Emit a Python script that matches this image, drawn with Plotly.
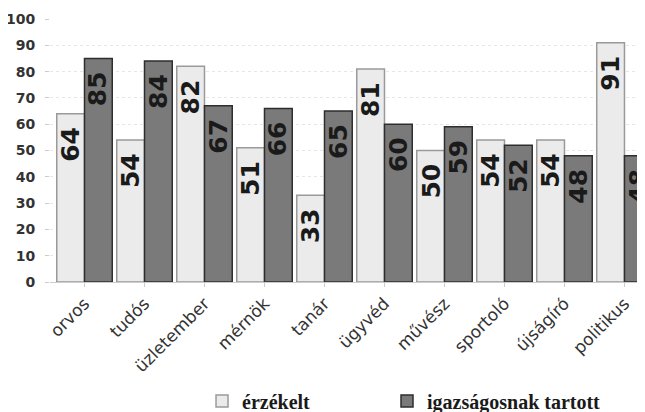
import plotly.graph_objects as go

categories = ["orvos", "tudós", "üzletember", "mérnök", "tanár", "ügyvéd",
              "művész", "sportoló", "újságíró", "politikus"]
perceived = [64, 54, 82, 51, 33, 81, 50, 54, 54, 91]
fair = [85, 84, 67, 66, 65, 60, 59, 52, 48, 48]
series_names = ["érzékelt", "igazságosnak tartott"]
y_ticks = [0, 10, 20, 30, 40, 50, 60, 70, 80, 90, 100]

fig = go.Figure()
fig.add_trace(go.Bar(
    x=categories, y=perceived, name=series_names[0], legend="legend",
    marker=dict(color="#ebebeb", line=dict(color="#9a9a9a", width=1.5)),
))
fig.add_trace(go.Bar(
    x=categories, y=fair, name=series_names[1], legend="legend2",
    marker=dict(color="#7a7a7a", line=dict(color="#2e2e2e", width=1.5)),
))

label_font = dict(family="DejaVu Sans", size=25, color="#1a1a1a", weight="bold")
half_bar_px = 13.9
for values, shift in ((perceived, -half_bar_px), (fair, half_bar_px)):
    for cat, v in zip(categories, values):
        fig.add_annotation(x=cat, y=v, text=str(v), showarrow=False,
                           textangle=-90, xanchor="center", yanchor="top",
                           xshift=shift, yshift=-11, font=label_font)

legend_font = dict(family="Liberation Serif", size=20, color="#1a1a1a", weight="bold")
fig.update_layout(
    width=637, height=404,
    margin=dict(l=42, r=0, t=11, b=130, autoexpand=False),
    paper_bgcolor="white", plot_bgcolor="white",
    barmode="group", bargap=0.075, bargroupgap=0,
    showlegend=True,
    legend=dict(orientation="h", x=0.2555, xanchor="left", y=-0.4525, yanchor="middle",
                font=legend_font),
    legend2=dict(orientation="h", x=0.5664, xanchor="left", y=-0.4525, yanchor="middle",
                 font=legend_font),
    xaxis=dict(range=[-0.575, 9.342], tickangle=-45, ticks="outside", ticklen=4,
               tickcolor="#cccccc", showgrid=False, showline=False, automargin=False,
               tickfont=dict(family="DejaVu Sans", size=17, color="#333333")),
    yaxis=dict(range=[0, 100], tickvals=y_ticks, ticks="outside", ticklen=4,
               tickcolor="#cccccc", showgrid=True, gridcolor="#e6e6e6", griddash="dot",
               zeroline=True, zerolinecolor="#cccccc", zerolinewidth=1,
               ticklabelstandoff=7, automargin=False,
               tickfont=dict(family="DejaVu Sans", size=14, color="#333333", weight="bold")),
)

fig.write_html("out.html")
